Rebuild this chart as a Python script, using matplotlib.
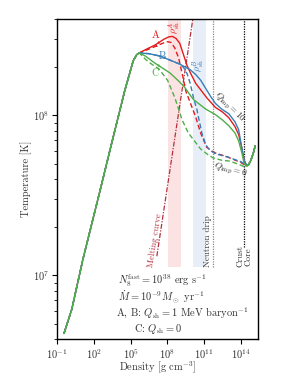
import numpy as np
import matplotlib
matplotlib.use('Agg')
import matplotlib.pyplot as plt

plt.rcParams['font.family'] = 'serif'
plt.rcParams['font.serif'] = ['cmr10', 'DejaVu Serif']
plt.rcParams['mathtext.fontset'] = 'cm'
plt.rcParams['axes.formatter.use_mathtext'] = True
plt.rcParams['axes.unicode_minus'] = False

# ── Datos (log10 densidad [g cm^-3], log10 T [K]) ─────────────────────────────
# tramo común (subida hasta el pico)
rise_lrho = [-0.43, 0.2, 1.1, 2.5, 3.3, 4.5, 5.2, 5.5, 5.7]
rise_lT   = [6.64, 6.79, 7.10, 7.53, 7.78, 8.15, 8.34, 8.38, 8.39]

# tramo final (después del mínimo en la transición corteza-núcleo)
tail_lrho = [14.6, 14.8, 15.0, 15.15]
tail_lT   = [7.69, 7.72, 7.765, 7.81]

A_solid_lrho = [6.2, 7.0, 7.7, 8.1, 8.4, 8.7, 9.0, 9.3, 9.6, 9.9, 10.3, 10.7,
                11.2, 11.9, 12.5, 13.0, 13.5, 13.8, 14.05, 14.25, 14.42]
A_solid_lT   = [8.41, 8.44, 8.475, 8.49, 8.493, 8.48, 8.45, 8.38, 8.31, 8.26, 8.20, 8.16,
                8.11, 8.05, 8.02, 7.985, 7.93, 7.88, 7.80, 7.72, 7.685]

A_dash_lrho = [6.2, 7.0, 7.6, 8.0, 8.3, 8.6, 8.9, 9.2, 9.5, 10.0, 10.3, 10.7,
               11.2, 11.9, 12.9, 14.0, 14.4]
A_dash_lT   = [8.405, 8.43, 8.45, 8.46, 8.455, 8.42, 8.36, 8.26, 8.15, 8.05, 7.99, 7.89,
               7.80, 7.765, 7.74, 7.705, 7.685]

B_solid_lrho = [6.5, 7.4, 8.2, 9.0, 9.85, 10.3, 10.7, 11.1, 11.5, 11.9, 12.4, 13.0,
                13.5, 13.8, 14.05, 14.25, 14.45]
B_solid_lT   = [8.385, 8.37, 8.345, 8.32, 8.285, 8.255, 8.22, 8.17, 8.12, 8.075, 8.04, 8.01,
                7.96, 7.91, 7.80, 7.72, 7.69]

B_dash_lrho = [6.5, 7.4, 8.2, 9.0, 9.3, 9.6, 9.85, 10.12, 10.4, 10.55, 10.8, 11.1,
               11.4, 11.9, 12.9, 14.0, 14.45]
B_dash_lT   = [8.385, 8.37, 8.345, 8.32, 8.30, 8.26, 8.20, 8.11, 8.035, 7.98, 7.89, 7.82,
               7.785, 7.76, 7.74, 7.71, 7.69]

C_solid_lrho = [6.2, 6.9, 7.5, 8.2, 8.9, 9.4, 10.1, 10.6, 11.1, 11.9, 12.5, 13.0,
                13.5, 13.8, 14.05, 14.25, 14.4]
C_solid_lT   = [8.37, 8.33, 8.30, 8.265, 8.215, 8.175, 8.10, 8.07, 8.04, 8.005, 7.97, 7.935,
                7.89, 7.84, 7.77, 7.70, 7.685]

C_dash_lrho = [6.2, 6.7, 7.3, 8.0, 8.6, 9.2, 9.7, 10.2, 10.7, 11.2, 11.7, 12.4,
               13.0, 13.6, 14.1, 14.35]
C_dash_lT   = [8.35, 8.32, 8.29, 8.22, 8.11, 7.97, 7.89, 7.84, 7.79, 7.76, 7.735, 7.72,
               7.715, 7.70, 7.685, 7.675]

# curva de fusión (dos extremos leídos)
melt_lrho = [7.13, 10.07]
melt_lT   = [7.12, 8.603]

# zonas de calentamiento somero y líneas verticales
band_A = (8.08, 9.09)
band_B = (10.07, 11.12)
rho_drip = 11.75
rho_cc   = 14.27

RED, BLUE, GREEN = '#e41a1c', '#377eb8', '#4daf4a'
MELT = '#b2313f'
TXT = '#333333'


def full(lrho, lT):
    x = np.array(rise_lrho + lrho + tail_lrho)
    y = np.array(rise_lT + lT + tail_lT)
    return 10**x, 10**y


fig = plt.figure(figsize=(2.87, 3.79), dpi=100)
ax = fig.add_axes([0.199, 0.105, 0.70, 0.845])
ax.set_xscale('log')
ax.set_yscale('log')
ax.set_xlim(1e-1, 10**15.38)
ax.set_ylim(4e6, 4e8)

# bandas
yb = 10**7.05
ax.fill_between([10**band_A[0], 10**band_A[1]], yb, 4e8, color='#fbe3e4', lw=0, zorder=0)
ax.fill_between([10**band_B[0], 10**band_B[1]], yb, 4e8, color='#e7eef7', lw=0, zorder=0)
ax.text(10**8.58, 10**8.55, r'$\rho^{A}_{\rm sh}$', color=RED, rotation=90,
        ha='center', va='center', fontsize=7)
ax.text(10**10.6, 10**8.31, r'$\rho^{B}_{\rm sh}$', color=BLUE, rotation=90,
        ha='center', va='center', fontsize=7)

# líneas verticales
ax.plot([10**rho_drip] * 2, [yb, 4e8], ls=(0, (1, 1)), color='#888888', lw=0.9, zorder=1)
ax.plot([10**rho_cc] * 2, [10**7.18, 4e8], ls=(0, (1, 1)), color='black', lw=0.9, zorder=1)
ax.text(10**(rho_drip - 0.12), yb, 'Neutron drip', rotation=90, ha='right', va='bottom',
        fontsize=6.5, color=TXT)
ax.text(10**rho_cc, yb, 'Crust\nCore', rotation=90, ha='center', va='bottom',
        fontsize=6.5, color=TXT, linespacing=0.9)

# curva de fusión
ax.plot(10**np.array(melt_lrho), 10**np.array(melt_lT), color=MELT, lw=0.9,
        ls=(0, (4, 1.2, 1, 1.2)), zorder=2)
ax.text(10**7.0, 10**7.22, 'Melting curve', rotation=81, ha='center', va='center',
        fontsize=6.5, color=MELT)

# curvas
curves = [
    (A_solid_lrho, A_solid_lT, RED, '-'),
    (A_dash_lrho, A_dash_lT, RED, (0, (3.5, 2))),
    (B_solid_lrho, B_solid_lT, BLUE, '-'),
    (B_dash_lrho, B_dash_lT, BLUE, (0, (3.5, 2))),
    (C_solid_lrho, C_solid_lT, GREEN, '-'),
    (C_dash_lrho, C_dash_lT, GREEN, (0, (3.5, 2))),
]
for lrho, lT, col, ls in curves:
    x, y = full(lrho, lT)
    ax.plot(x, y, color=col, ls=ls, lw=1.0, zorder=3)

# flechas sobre las curvas
for lrho, lT, col, x0 in [(A_solid_lrho, A_solid_lT, RED, 6.95),
                          (A_dash_lrho, A_dash_lT, RED, 6.95),
                          (B_solid_lrho, B_solid_lT, BLUE, 7.2),
                          (C_solid_lrho, C_solid_lT, GREEN, 6.95)]:
    xx = rise_lrho + lrho
    yy = rise_lT + lT
    y1 = np.interp(x0, xx, yy)
    y2 = np.interp(x0 + 0.4, xx, yy)
    ax.annotate('', xy=(10**x0, 10**y1), xytext=(10**(x0 + 0.4), 10**y2),
                arrowprops=dict(arrowstyle='-|>', color=col, lw=0, mutation_scale=5),
                zorder=4)

ax.text(10**6.99, 10**8.503, 'A', color=RED, fontsize=7.5, ha='center', va='center')
ax.text(10**7.6, 10**8.366, 'B', color=BLUE, fontsize=7.5, ha='center', va='center')
ax.text(10**6.99, 10**8.262, 'C', color=GREEN, fontsize=7.5, ha='center', va='center')

ax.text(10**13.05, 10**8.05, r'$Q_{\rm imp}=10$', rotation=-45, ha='center', va='center',
        fontsize=6.5, color=TXT)
ax.text(10**13.15, 10**7.655, r'$Q_{\rm imp}=0$', rotation=-15, ha='center', va='center',
        fontsize=6.5, color=TXT)

# bloque de parámetros
ax.text(10**4.0, 10**6.965, r'$N_8^{\rm fast}=10^{38}$ erg s$^{-1}$', fontsize=7.5,
        color=TXT, va='center')
ax.text(10**4.0, 10**6.87, r'$\dot M=10^{-9}M_\odot$ yr$^{-1}$', fontsize=7.5,
        color=TXT, va='center')
ax.text(10**3.8, 10**6.77, r'A, B: $Q_{\rm sh}=1$ MeV baryon$^{-1}$', fontsize=7.5,
        color=TXT, va='center')
ax.text(10**5.3, 10**6.665, r'C: $Q_{\rm sh}=0$', fontsize=7.5, color=TXT, va='center')

# ejes
ax.set_xticks([1e-1, 1e2, 1e5, 1e8, 1e11, 1e14])
ax.xaxis.set_minor_locator(matplotlib.ticker.NullLocator())
ax.tick_params(which='both', direction='out', top=False, right=False,
               labelsize=7.5, labelcolor=TXT)
ax.tick_params(which='major', length=3.5, width=0.8, pad=2)
ax.tick_params(which='minor', length=2, width=0.6)
ax.set_xlabel(r'Density [g cm$^{-3}$]', fontsize=7.5, color=TXT)
ax.set_ylabel('Temperature [K]', fontsize=7.5, color=TXT)
ax.xaxis.set_label_coords(0.5, -0.066)
ax.yaxis.set_label_coords(-0.125, 0.5)
for s in ax.spines.values():
    s.set_linewidth(1.0)

fig.savefig('out.png', dpi=100)
